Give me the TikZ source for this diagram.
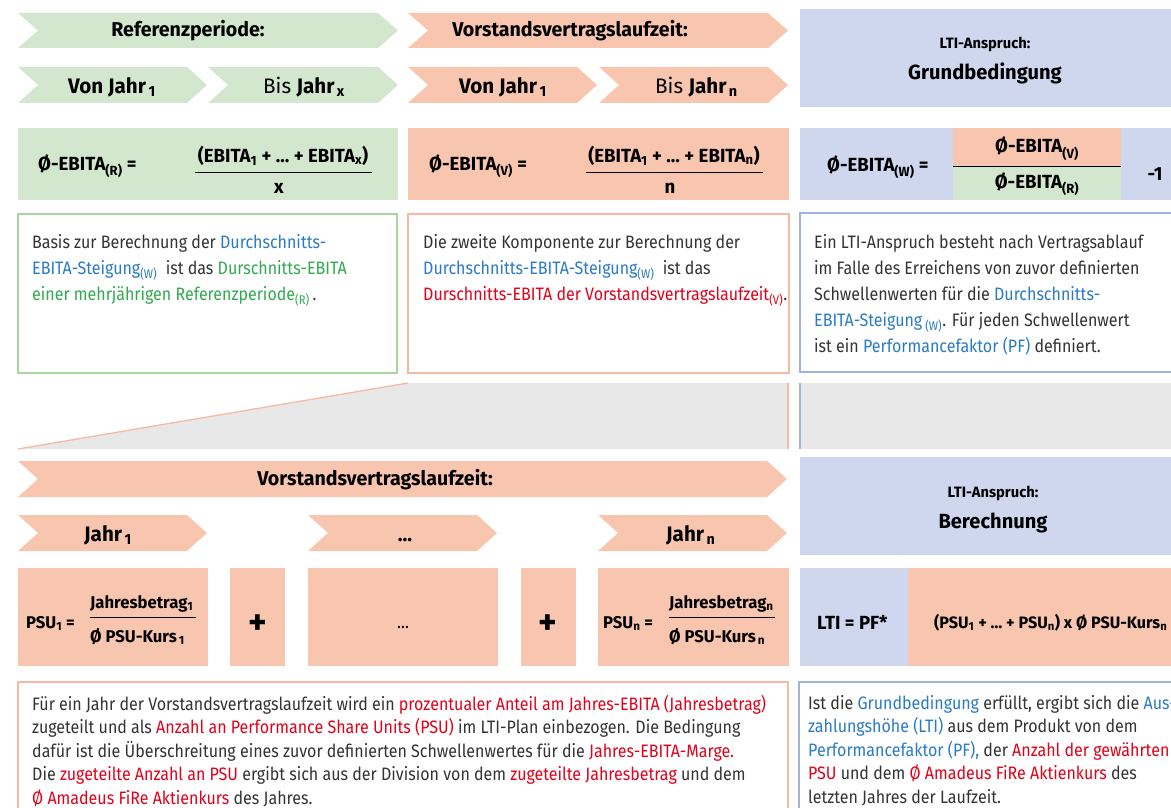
\documentclass[tikz,border=0pt]{standalone}
\usepackage{fontspec}
\setmainfont{Fira Sans}[FakeStretch=0.89]
\newfontfamily\headfont{Fira Sans}[FakeStretch=0.98]
\usepackage{xcolor}
\usetikzlibrary{positioning}
\definecolor{grfill}{HTML}{D3E6CE}
\definecolor{safill}{HTML}{F8C5AF}
\definecolor{blfill}{HTML}{CED7EE}
\definecolor{grline}{HTML}{A8D5A0}
\definecolor{saline}{HTML}{F6B9A1}
\definecolor{blline}{HTML}{9FB4E2}
\definecolor{bggray}{HTML}{E8E8E8}
\definecolor{tblue}{HTML}{2B7BC4}
\definecolor{tgreen}{HTML}{2FAA4F}
\definecolor{tred}{HTML}{E2001A}
\definecolor{tdark}{HTML}{333333}

\begin{document}
\begin{tikzpicture}[x=1pt,y=-1pt,inner sep=0pt,
    body/.style={font=\fontsize{18}{26}\selectfont,text=tdark,align=left,anchor=north west},
    foot/.style={font=\fontsize{18}{23.5}\selectfont,text=tdark,align=left,anchor=north west},
    head/.style={font=\headfont\fontsize{20}{24}\selectfont\bfseries,anchor=base},
    year/.style={font=\headfont\fontsize{21}{24}\selectfont,anchor=base west},
    formula/.style={font=\headfont\fontsize{19}{22}\selectfont\bfseries,anchor=base},
    psu/.style={font=\headfont\fontsize{17}{20}\selectfont\bfseries,anchor=base west},
    frame/.style={line width=1.3pt,fill=white}]
\useasboundingbox (0,0) rectangle (1171,808);
\clip (0,0) rectangle (1171,808);

\fill[grfill] (18,13) -- (378,13) -- (398,30.5) -- (378,48) -- (18,48) -- (38,30.5) -- cycle;
\fill[safill] (408,13) -- (768,13) -- (788,30.5) -- (768,48) -- (408,48) -- (428,30.5) -- cycle;
\fill[grfill] (18,67) -- (187,67) -- (207,85) -- (187,103) -- (18,103) -- (38,85) -- cycle;
\fill[grfill] (208,67) -- (378,67) -- (398,85) -- (378,103) -- (208,103) -- (228,85) -- cycle;
\fill[safill] (408,67) -- (577,67) -- (597,85) -- (577,103) -- (408,103) -- (428,85) -- cycle;
\fill[safill] (599,67) -- (768,67) -- (788,85) -- (768,103) -- (599,103) -- (619,85) -- cycle;
\fill[blfill] (800,9) rectangle (1175,107);

\node[head] (refT) at (188,37) {Referenzperiode:};
\node[head] (vorT) at (570,37) {Vorstandsvertragslaufzeit:};
\node[head,font=\headfont\fontsize{15}{20}\selectfont\bfseries] (ltiA) at (985,49) {LTI-Anspruch:};
\node[head,font=\headfont\fontsize{20.5}{26}\selectfont\bfseries] (ltiB) at (985,80) {Grundbedingung};

\node[year] (r1) at (68,93) {\textbf{Von Jahr\textsubscript{\,1}}};
\node[year] (rx) at (263,93) {Bis \textbf{Jahr\textsubscript{\,x}}};
\node[year] (v1) at (459,93) {\textbf{Von Jahr\textsubscript{\,1}}};
\node[year] (vn) at (655,93) {Bis \textbf{Jahr\textsubscript{\,n}}};

\fill[grfill] (18,128) rectangle (398,200);
\fill[safill] (408,128) rectangle (789,200);
\fill[blfill] (800,128) rectangle (1175,200);
\fill[safill] (953,128) rectangle (1121,166);
\fill[grfill] (953,166) rectangle (1121,200);

\node[formula,anchor=base west] (eqR) at (38,170) {Ø-EBITA\textsubscript{(R)} =};
\node[formula] (numR) at (283,162) {(EBITA\textsubscript{1} + … + EBITA\textsubscript{x})};
\node[formula] (denR) at (279,193) {x};
\draw[line width=0.9pt] (195,172) -- (372,172);
\node[formula,anchor=base west] (eqV) at (429,170) {Ø-EBITA\textsubscript{(V)} =};
\node[formula] (numV) at (674,162) {(EBITA\textsubscript{1} + … + EBITA\textsubscript{n})};
\node[formula] (denV) at (670,193) {n};
\draw[line width=0.9pt] (586,172) -- (763,172);
\node[formula,anchor=base west] (eqW) at (827,171) {Ø-EBITA\textsubscript{(W)} =};
\node[formula] (topW) at (1037,153) {Ø-EBITA\textsubscript{(V)}};
\node[formula] (botW) at (1037,188) {Ø-EBITA\textsubscript{(R)}};
\draw[line width=0.9pt] (953,166) -- (1121,166);
\node[formula] (minus) at (1155,180) {-1};

\draw[frame,draw=grline] (18,214) rectangle (397,373);
\draw[frame,draw=saline] (408,214) rectangle (789,373);
\draw[frame,draw=blline] (800,213) rectangle (1180,372);

\node[body] (txtR) at (32,234) {Basis zur Berechnung der \textcolor{tblue}{Durchschnitts-}\\
\textcolor{tblue}{EBITA-Steigung\textsubscript{(W)}}\ \ ist das \textcolor{tgreen}{Durschnitts-EBITA}\\
\textcolor{tgreen}{einer mehrjährigen Referenzperiode\textsubscript{(R)}}\,.};
\node[body] (txtV) at (423,234) {Die zweite Komponente zur Berechnung der\\
\textcolor{tblue}{Durchschnitts-EBITA-Steigung\textsubscript{(W)}}\ \ ist das\\
\textcolor{tred}{Durschnitts-EBITA der Vorstandsvertragslaufzeit\textsubscript{(V)}}.};
\node[body] (txtW) at (814,234) {Ein LTI-Anspruch besteht nach Vertragsablauf\\
im Falle des Erreichens von zuvor definierten\\
Schwellenwerten für die \textcolor{tblue}{Durchschnitts-}\\
\textcolor{tblue}{EBITA-Steigung\,\textsubscript{(W)}}. Für jeden Schwellenwert\\
ist ein \textcolor{tblue}{Performancefaktor (PF)} definiert.};

\fill[bggray] (408,383) -- (788,383) -- (788,449) -- (18,449) -- cycle;
\draw[saline,line width=1.3pt] (18,449) -- (408,383);
\draw[saline,line width=1.3pt] (788,383) -- (788,449);
\fill[bggray] (800,383) rectangle (1175,449);
\draw[blline,line width=1.3pt] (800,383) -- (800,449);

\fill[safill] (18,461) -- (767,461) -- (787,479) -- (767,497) -- (18,497) -- (38,479) -- cycle;
\fill[safill] (18,515) -- (187,515) -- (207,533) -- (187,551) -- (18,551) -- (38,533) -- cycle;
\fill[safill] (308,515) -- (477,515) -- (497,533) -- (477,551) -- (308,551) -- (328,533) -- cycle;
\fill[safill] (598,515) -- (767,515) -- (787,533) -- (767,551) -- (598,551) -- (618,533) -- cycle;
\fill[blfill] (800,457) rectangle (1175,555);

\node[head] (vorB) at (375,485) {Vorstandsvertragslaufzeit:};
\node[year] (j1) at (84,541) {\textbf{Jahr\textsubscript{\,1}}};
\node[head] (jdots) at (405,541) {…};
\node[year] (jn) at (666,541) {\textbf{Jahr\textsubscript{\,n}}};
\node[head,font=\headfont\fontsize{15}{20}\selectfont\bfseries] (ltiC) at (993,497) {LTI-Anspruch:};
\node[head,font=\headfont\fontsize{20.5}{26}\selectfont\bfseries] (ltiD) at (993,528) {Berechnung};

\fill[safill] (18,568) rectangle (208,666);
\fill[safill] (230,568) rectangle (285,666);
\fill[safill] (308,568) rectangle (498,666);
\fill[safill] (521,568) rectangle (576,666);
\fill[safill] (598,568) rectangle (789,666);
\fill[blfill] (800,568) rectangle (908,666);
\fill[safill] (908,568) rectangle (1175,666);

\node[psu] (p1) at (26,628) {PSU\textsubscript{1} =};
\node[psu] (p1num) at (90,608) {Jahresbetrag\textsubscript{1}};
\node[psu] (p1den) at (90,642) {Ø PSU-Kurs\textsubscript{\,1}};
\draw[line width=0.9pt] (90,617) -- (196,617);
\node[head,font=\headfont\fontsize{36}{36}\selectfont\bfseries] (plus1) at (258,634) {+};
\node[head,font=\fontsize{18}{22}\selectfont] (dots) at (403,628) {…};
\node[head,font=\headfont\fontsize{36}{36}\selectfont\bfseries] (plus2) at (548,634) {+};
\node[psu] (pn) at (603,628) {PSU\textsubscript{n} =};
\node[psu] (pnnum) at (669,608) {Jahresbetrag\textsubscript{n}};
\node[psu] (pnden) at (669,642) {Ø PSU-Kurs\textsubscript{\,n}};
\draw[line width=0.9pt] (669,617) -- (775,617);
\node[psu,font=\headfont\fontsize{19}{22}\selectfont\bfseries] (lti) at (817,629) {LTI = PF*};
\node[psu,font=\headfont\fontsize{16.5}{20}\selectfont\bfseries] (ltif) at (934,628) {(PSU\textsubscript{1} + … + PSU\textsubscript{n}) x Ø PSU-Kurs\textsubscript{n}};

\draw[frame,draw=saline] (18,682) rectangle (788,830);
\draw[frame,draw=blline] (799,682) rectangle (1180,830);

\node[foot] (txtP) at (32,695) {Für ein Jahr der Vorstandsvertragslaufzeit wird ein \textcolor{tred}{prozentualer Anteil am Jahres-EBITA (Jahresbetrag)}\\
zugeteilt und als \textcolor{tred}{Anzahl an Performance Share Units (PSU)} im LTI-Plan einbezogen. Die Bedingung\\
dafür ist die Überschreitung eines zuvor definierten Schwellenwertes für die \textcolor{tred}{Jahres-EBITA-Marge.}\\
Die \textcolor{tred}{zugeteilte Anzahl an PSU} ergibt sich aus der Division von dem \textcolor{tred}{zugeteilte Jahresbetrag} und dem\\
\textcolor{tred}{Ø Amadeus FiRe Aktienkurs} des Jahres.};
\node[foot] (txtL) at (808,695) {Ist die \textcolor{tblue}{Grundbedingung} erfüllt, ergibt sich die \textcolor{tblue}{Aus-}\\
\textcolor{tblue}{zahlungshöhe (LTI)} aus dem Produkt von dem\\
\textcolor{tblue}{Performancefaktor (PF),} der \textcolor{tred}{Anzahl der gewährten}\\
\textcolor{tred}{PSU} und dem \textcolor{tred}{Ø Amadeus FiRe Aktienkurs} des\\
letzten Jahres der Laufzeit.};
\end{tikzpicture}
\end{document}
